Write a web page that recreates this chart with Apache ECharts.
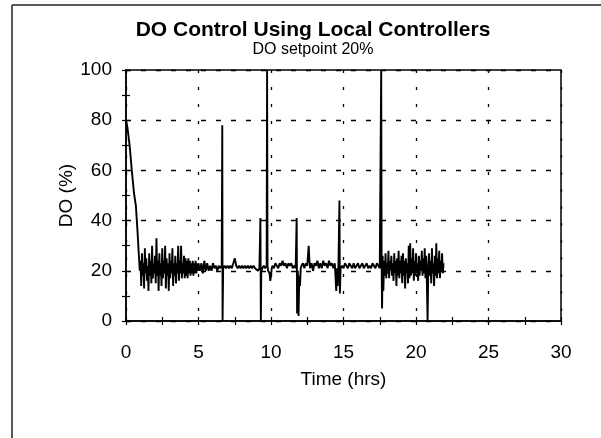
<!DOCTYPE html>
<html>
<head>
<meta charset="utf-8">
<script src="https://cdn.jsdelivr.net/npm/echarts@6/dist/echarts.min.js"></script>
<style>
html,body{margin:0;padding:0;background:#fff;}
#chart{width:601px;height:438px;}
</style>
</head>
<body>
<div id="chart"></div>
<script>
// ---- Data (time in hrs, DO in %) ----
const titleText = 'DO Control Using Local Controllers';
const subtitleText = 'DO setpoint 20%';
const xTicks = [0, 5, 10, 15, 20, 25, 30];
const yTicks = [0, 20, 40, 60, 80, 100];

const startupPhase = [
  [0,80],[0.1,77],[0.25,70],[0.4,60],[0.55,51],[0.68,46],[0.78,37],[0.88,27],[0.95,20]
];

const noisyPhase = [
  [1.00,24],[1.05,14],[1.10,27],[1.15,18],[1.20,23],[1.25,13],[1.30,29],[1.35,19],[1.40,25],[1.45,16],
  [1.50,22],[1.55,12],[1.60,27],[1.65,18],[1.70,24],[1.75,15],[1.80,30],[1.85,17],[1.90,23],[1.95,19],
  [2.00,26],[2.05,15],[2.10,33],[2.15,18],[2.20,24],[2.25,12],[2.30,27],[2.35,18],[2.40,23],[2.45,14],
  [2.50,29],[2.55,17],[2.60,24],[2.65,19],[2.70,30],[2.75,13],[2.80,25],[2.85,18],[2.90,23],[2.95,12],
  [3.00,27],[3.05,17],[3.10,24],[3.15,19],[3.20,29],[3.25,14],[3.30,23],[3.35,18],[3.40,26],[3.45,15],
  [3.50,23],[3.55,19],[3.60,30],[3.65,16],[3.70,24],[3.75,19],[3.80,30],[3.85,17],[3.90,23],[3.95,19],
  [4.00,26],[4.05,17],[4.10,25],[4.15,18],[4.20,24],[4.25,17],[4.30,25],[4.35,19],[4.40,24],[4.45,18],
  [4.50,23],[4.55,19],[4.60,24],[4.65,18],[4.70,23],[4.75,19],[4.80,24],[4.85,19],[4.90,23],[4.95,20],
  [5.00,23],[5.10,20],[5.20,23],[5.30,19],[5.40,24],[5.50,20],[5.60,23],[5.70,20],[5.80,22],[5.90,20]
];

const steadyPhase = [
  [6.0,23],[6.1,21],[6.2,22],[6.3,20],[6.4,22],[6.5,21],[6.6,22],[6.64,78],[6.66,0],[6.7,21],
  [6.8,22],[6.9,21],[7.0,22],[7.1,21],[7.2,22],[7.3,21],[7.4,23],[7.5,25],[7.6,22],[7.7,21],
  [7.8,22],[7.9,21],[8.0,22],[8.1,21],[8.2,22],[8.3,21],[8.4,22],[8.5,21],[8.6,22],[8.7,21],
  [8.8,22],[8.9,21],[9.0,21],[9.1,20],[9.2,21],[9.27,41],[9.3,0],[9.33,20],[9.4,21],[9.5,22],
  [9.6,21],[9.7,22],[9.73,100],[9.76,22],[9.8,20],[9.9,19],[9.95,16],[10.0,18],[10.05,21],[10.1,22],
  [10.2,21],[10.3,23],[10.4,22],[10.5,21],[10.6,23],[10.7,22],[10.8,24],[10.9,22],[11.0,23],[11.1,21],
  [11.2,23],[11.3,22],[11.4,23],[11.5,21],[11.6,22],[11.7,21],[11.77,41],[11.8,3],[11.85,20],[11.9,2],
  [11.95,18],[12.0,14],[12.05,21],[12.1,22],[12.2,23],[12.3,21],[12.4,23],[12.5,22],[12.6,30],[12.65,24],
  [12.7,21],[12.8,23],[12.9,20],[13.0,23],[13.1,22],[13.2,24],[13.3,21],[13.4,23],[13.5,21],[13.6,24],
  [13.7,22],[13.8,23],[13.9,21],[14.0,24],[14.1,22],[14.2,23],[14.3,21],[14.4,23],[14.5,12],[14.55,21],
  [14.6,14],[14.65,22],[14.72,48],[14.75,11],[14.8,21],[14.9,22],[15.0,21],[15.1,23],[15.2,22],[15.3,21],
  [15.4,23],[15.5,22],[15.6,21],[15.7,23],[15.8,21],[15.9,22],[16.0,23],[16.1,21],[16.2,22],[16.3,23],
  [16.4,21],[16.5,22],[16.6,23],[16.7,21],[16.8,22],[16.9,21],[17.0,23],[17.1,22],[17.2,21],[17.3,23],
  [17.4,22],[17.5,21]
];

const latePhase = [
  [17.60,100],[17.63,22],[17.66,5],[17.70,26],[17.75,12],[17.80,24],[17.85,18],[17.90,27],[17.95,17],
  [18.00,23],[18.05,19],[18.10,28],[18.15,17],[18.20,24],[18.25,20],[18.30,26],[18.35,18],[18.40,23],
  [18.45,16],[18.50,27],[18.55,19],[18.60,24],[18.65,14],[18.70,25],[18.75,18],[18.80,28],[18.85,17],
  [18.90,24],[18.95,19],[19.00,26],[19.05,15],[19.10,27],[19.15,18],[19.20,24],[19.25,13],[19.30,25],
  [19.35,19],[19.40,23],[19.45,15],[19.50,30],[19.55,17],[19.60,31],[19.65,18],[19.70,25],[19.75,19],
  [19.80,29],[19.85,16],[19.90,24],[19.95,18],[20.00,27],[20.05,19],[20.10,23],[20.15,16],[20.20,26],
  [20.25,18],[20.30,24],[20.35,20],[20.40,28],[20.45,18],[20.50,25],[20.55,19],[20.60,29],[20.65,17],
  [20.70,26],[20.75,15],[20.80,0],[20.85,22],[20.90,27],[20.95,18],[21.00,24],[21.05,15],[21.10,29],
  [21.15,19],[21.20,23],[21.25,14],[21.30,26],[21.35,18],[21.40,31],[21.45,17],[21.50,25],[21.55,19],
  [21.60,28],[21.65,17],[21.70,24],[21.75,20],[21.80,27],[21.85,19],[21.90,23]
];

const doSeries = startupPhase.concat(noisyPhase, steadyPhase, latePhase);

// ---- Chart ----
const FONT = 'Liberation Sans, Arial, Helvetica, sans-serif';
const chart = echarts.init(document.getElementById('chart'), null, {renderer: 'canvas'});

const xMin = xTicks[0], xMax = xTicks[xTicks.length - 1], xStep = xTicks[1] - xTicks[0];
const yMin = yTicks[0], yMax = yTicks[yTicks.length - 1], yStep = yTicks[1] - yTicks[0];

const option = {
  backgroundColor: '#fff',
  animation: false,
  title: {
    text: titleText,
    subtext: subtitleText,
    left: 308,
    top: 15,
    textAlign: 'center',
    itemGap: 1,
    textStyle: {fontFamily: FONT, fontSize: 21, fontWeight: 'bold', color: '#000'},
    subtextStyle: {fontFamily: FONT, fontSize: 16, color: '#000'}
  },
  graphic: [
    {type: 'line', shape: {x1: 12, y1: 5, x2: 12, y2: 438}, style: {stroke: '#222', lineWidth: 1.5}},
    {type: 'line', shape: {x1: 12, y1: 5, x2: 601, y2: 5}, style: {stroke: '#222', lineWidth: 1.5}}
  ],
  grid: {
    left: 126, right: 40, top: 70, bottom: 117,
    show: true, borderColor: '#000', borderWidth: 1.5, backgroundColor: 'transparent'
  },
  xAxis: [{
    type: 'value', min: xMin, max: xMax, interval: xStep,
    name: 'Time (hrs)', nameLocation: 'middle', nameGap: 49,
    nameTextStyle: {fontFamily: FONT, fontSize: 19, color: '#000'},
    axisLine: {show: true, lineStyle: {color: '#000', width: 1.5}},
    axisTick: {show: true, length: 4, lineStyle: {color: '#000', width: 1.2}},
    minorTick: {show: true, splitNumber: 2, length: 4, lineStyle: {color: '#000', width: 1.2}},
    axisLabel: {fontFamily: FONT, fontSize: 19, color: '#000', margin: 22},
    splitLine: {show: true, lineStyle: {color: '#000', width: 1.3, type: [3, 14]}}
  }, {
    type: 'value', min: xMin, max: xMax, interval: xStep, position: 'bottom',
    axisLine: {show: false},
    axisTick: {show: true, inside: true, length: 4, lineStyle: {color: '#000', width: 1.2}},
    minorTick: {show: true, splitNumber: 2, length: 4, lineStyle: {color: '#000', width: 1.2}},
    axisLabel: {show: false}, splitLine: {show: false}
  }],
  yAxis: [{
    type: 'value', min: yMin, max: yMax, interval: yStep,
    name: 'DO (%)', nameLocation: 'middle', nameGap: 50, nameRotate: 90,
    nameMoveOverlap: false,
    nameTextStyle: {fontFamily: FONT, fontSize: 19, color: '#000'},
    axisLine: {show: true, lineStyle: {color: '#000', width: 1.5}},
    axisTick: {show: true, length: 4, lineStyle: {color: '#000', width: 1.2}},
    minorTick: {show: true, splitNumber: 2, length: 4, lineStyle: {color: '#000', width: 1.2}},
    axisLabel: {fontFamily: FONT, fontSize: 19, color: '#000', margin: 14},
    splitLine: {show: true, lineStyle: {color: '#000', width: 1.3, type: [5, 10]}}
  }, {
    type: 'value', min: yMin, max: yMax, interval: yStep, position: 'left',
    axisLine: {show: false},
    axisTick: {show: true, inside: true, length: 4, lineStyle: {color: '#000', width: 1.2}},
    minorTick: {show: true, splitNumber: 2, length: 4, lineStyle: {color: '#000', width: 1.2}},
    axisLabel: {show: false}, splitLine: {show: false}
  }],
  series: [{
    type: 'line',
    xAxisIndex: 0, yAxisIndex: 0,
    data: doSeries,
    showSymbol: false,
    symbol: 'none',
    lineStyle: {color: '#000', width: 1.9},
    z: 5
  }]
};
chart.setOption(option);
</script>
</body>
</html>
